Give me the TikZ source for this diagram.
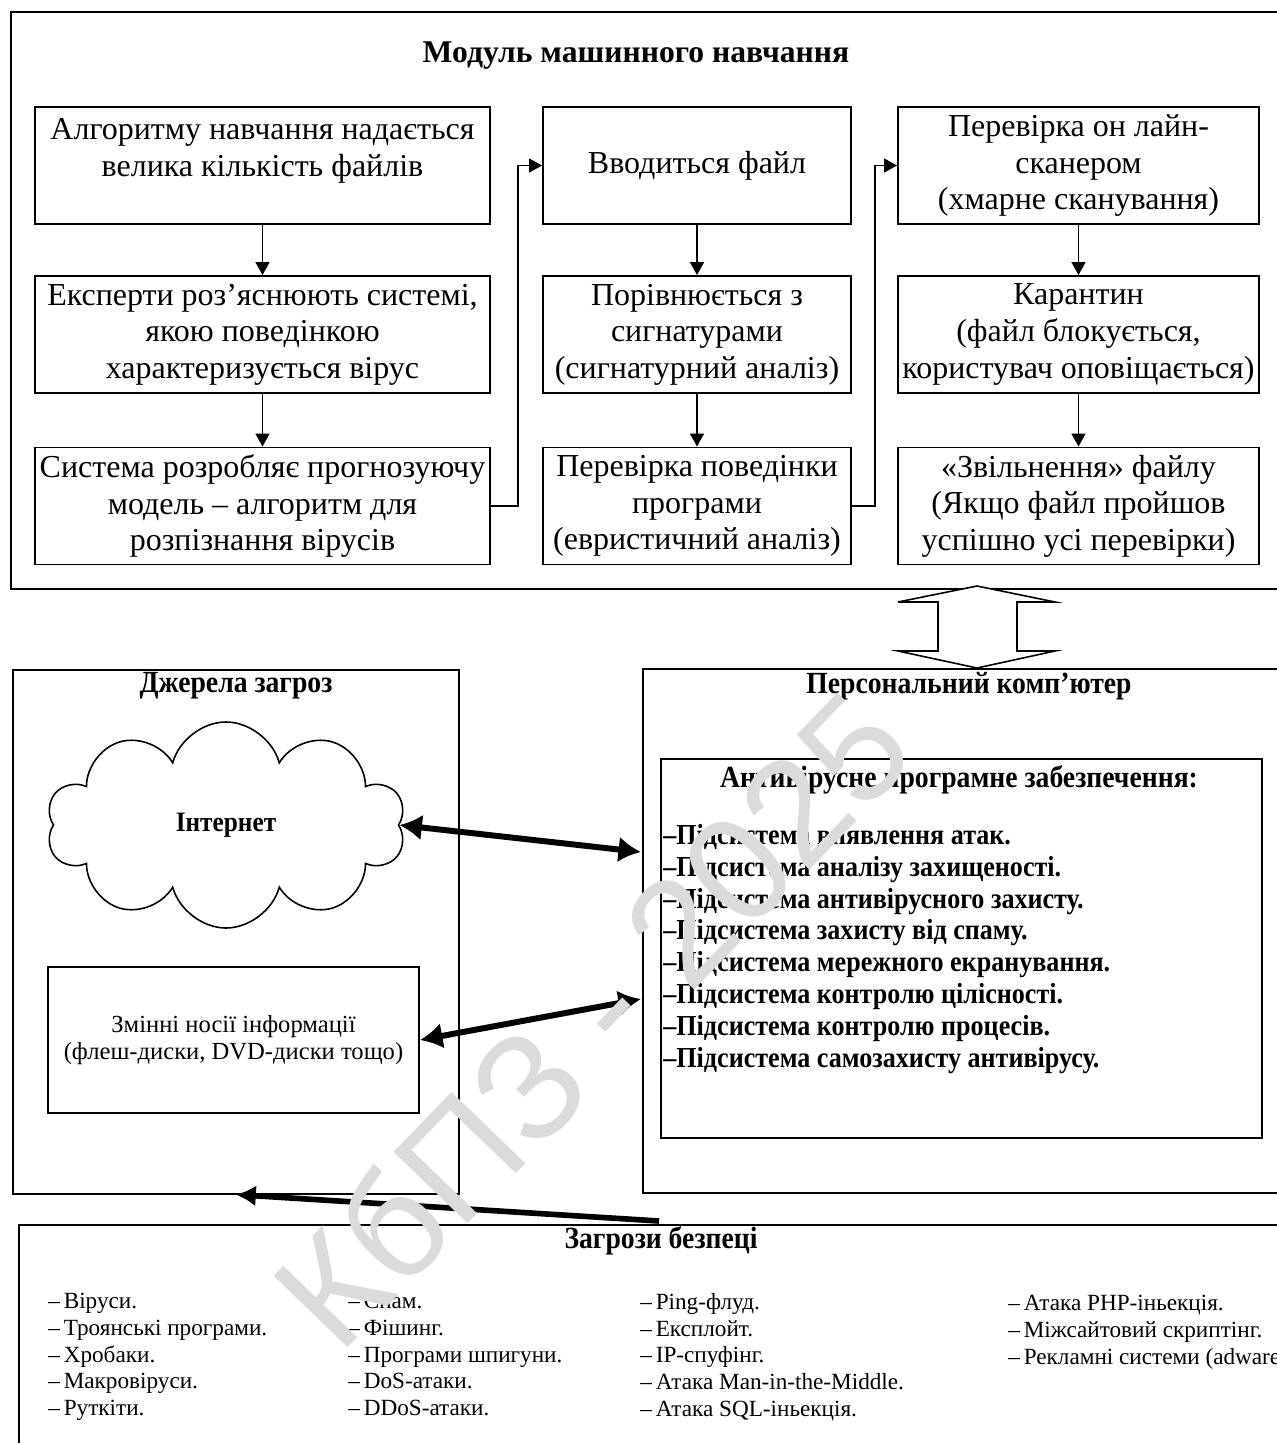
\documentclass[tikz,border=0pt]{standalone}
\usepackage{fontspec}
\setmainfont{Liberation Serif}
\newfontfamily\scanfont[FakeStretch=0.9]{Liberation Serif}
\newfontfamily\wmfont{Liberation Sans}
\usetikzlibrary{positioning,calc,arrows.meta,shapes.symbols}

\begin{document}
\begin{tikzpicture}[
    x=0.2mm, y=-0.2mm,
    box/.style={rectangle, draw, line width=1.1pt, align=center, minimum height=2.34cm, inner sep=0pt, font=\fontsize{18.2}{20.8}\selectfont},
    panel/.style={rectangle, draw, line width=0.9pt, inner sep=0pt},
    arrow/.style={-{Triangle[length=0.26cm,width=0.28cm]}, line width=0.9pt},
    fatarrow/.style={{Latex[length=0.45cm,width=0.52cm]}-{Latex[length=0.45cm,width=0.52cm]}, line width=3.4pt},
    leftarrow/.style={-{Latex[length=0.4cm,width=0.42cm]}, line width=3.2pt},
    headtext/.style={font=\bfseries\fontsize{18}{21}\selectfont},
    subhead/.style={font=\scanfont\bfseries\fontsize{17.5}{20}\selectfont},
    listtext/.style={anchor=north west, align=left, inner sep=0pt, font=\fontsize{13.2}{15.2}\selectfont}
]
\useasboundingbox (0,0) rectangle (1277,1443);
\clip (0,0) rectangle (1277,1443);
\fill[white] (0,0) rectangle (1277,1443);

% Machine learning module
\node[panel, line width=1.1pt, minimum width=25.8cm, minimum height=11.54cm, anchor=north west] (module) at (10,11) {};
\node[headtext] (mtitle) at (636,56) {Модуль машинного навчання};

\node[box, minimum width=9.1cm] (l1) at (262.5,165.5) {Алгоритму навчання надається\\велика кількість файлів\\~};
\node[box, minimum width=9.1cm] (l2) at (262.5,334.5) {Експерти роз’яснюють системі,\\якою поведінкою\\характеризується вірус};
\node[box, minimum width=9.1cm] (l3) at (262.5,506) {Система розробляє прогнозуючу\\модель – алгоритм для\\розпізнання вірусів};

\node[box, minimum width=6.16cm] (m1) at (697,165.5) {Вводиться файл};
\node[box, minimum width=6.16cm] (m2) at (697,334.5) {Порівнюється з\\сигнатурами\\(сигнатурний аналіз)};
\node[box, minimum width=6.16cm] (m3) at (697,506) {Перевірка поведінки\\програми\\(евристичний аналіз)};

\node[box, minimum width=7.22cm] (r1) at (1078.5,165.5) {Перевірка он лайн-\\сканером\\(хмарне сканування)};
\node[box, minimum width=7.22cm] (r2) at (1078.5,334.5) {Карантин\\(файл блокується,\\користувач оповіщається)};
\node[box, minimum width=7.22cm] (r3) at (1078.5,506) {«Звільнення» файлу\\(Якщо файл пройшов\\успішно усі перевірки)};

\draw[arrow] (l1) -- (l2);
\draw[arrow] (l2) -- (l3);
\draw[arrow] (m1) -- (m2);
\draw[arrow] (m2) -- (m3);
\draw[arrow] (r1) -- (r2);
\draw[arrow] (r2) -- (r3);
\draw[arrow] (l3.east) -- ++(27,0) |- (m1.west);
\draw[arrow] (m3.east) -- ++(23,0) |- (r1.west);

% hollow double arrow
\draw[line width=0.9pt, fill=white] (977,586) -- (1055,602) -- (1017,602) -- (1017,651) -- (1055,651) -- (977,668)
    -- (898,651) -- (938,651) -- (938,602) -- (898,602) -- cycle;

% Threat sources
\node[panel, minimum width=8.92cm, minimum height=10.48cm, anchor=north west] (sources) at (12,669) {};
\node[subhead] at (236,686) {Джерела загроз};
\node[cloud, draw, cloud puffs=10, aspect=1.74, minimum width=7.18cm, minimum height=4.12cm, line width=0.9pt,
      font=\scanfont\bfseries\fontsize{16}{18}\selectfont] (inet) at (226,825) {Інтернет};
\node[panel, line width=1.1pt, minimum width=7.42cm, minimum height=2.92cm, align=center,
      font=\fontsize{14}{15.6}\selectfont] (media) at (233.5,1040) {Змінні носії інформації\\(флеш-диски, DVD-диски тощо)};

% Personal computer
\node[panel, minimum width=13.2cm, minimum height=10.48cm, anchor=north west] (pc) at (642,668) {};
\node[subhead] at (969,686) {Персональний комп’ютер};
\node[panel, line width=1.1pt, minimum width=12.02cm, minimum height=7.58cm] (av) at (961.5,948.5) {};
\node[subhead] at (959,780) {Антивірусне програмне забезпечення:};
\node[listtext, font=\scanfont\bfseries\fontsize{16.5}{18.1}\selectfont] (avlist) at (663,824) {–Підсистема виявлення атак.\\
–Підсистема аналізу захищеності.\\
–Підсистема антивірусного захисту.\\
–Підсистема захисту від спаму.\\
–Підсистема мережного екранування.\\
–Підсистема контролю цілісності.\\
–Підсистема контролю процесів.\\
–Підсистема самозахисту антивірусу.};

\coordinate (pcnet) at (641,852);
\coordinate (pcmedia) at (641,999);
\draw[fatarrow] (inet.east) -- (pcnet);
\draw[fatarrow] (media.east) -- (pcmedia);

% Security threats
\node[panel, minimum width=25.8cm, minimum height=5cm, anchor=north west] (threats) at (18,1224) {};
\node[subhead] at (661,1241) {Загрози безпеці};
\node[listtext] (col1) at (48,1293) {–\,Віруси.\\–\,Троянські програми.\\–\,Хробаки.\\–\,Макровіруси.\\–\,Руткіти.};
\node[listtext] (col2) at (348,1293) {–\,Спам.\\–\,Фішинг.\\–\,Програми шпигуни.\\–\,DoS-атаки.\\–\,DDoS-атаки.};
\node[listtext] (col3) at (640,1293) {–\,Ping-флуд.\\–\,Експлойт.\\–\,IP-спуфінг.\\–\,Атака Man-in-the-Middle.\\–\,Атака SQL-іньекція.};
\node[listtext] (col4) at (1008,1295) {–\,Атака PHP-іньекція.\\–\,Міжсайтовий скриптінг.\\–\,Рекламні системи (adware).};

\coordinate (tstart) at (659,1221);
\draw[leftarrow] (tstart) -- (sources.south);

% watermark
\node[rotate=46, text=black!14, font=\wmfont\fontsize{85}{90}\selectfont] (wmark) at (591,1019) {КбПЗ - 2025};
\end{tikzpicture}
\end{document}
